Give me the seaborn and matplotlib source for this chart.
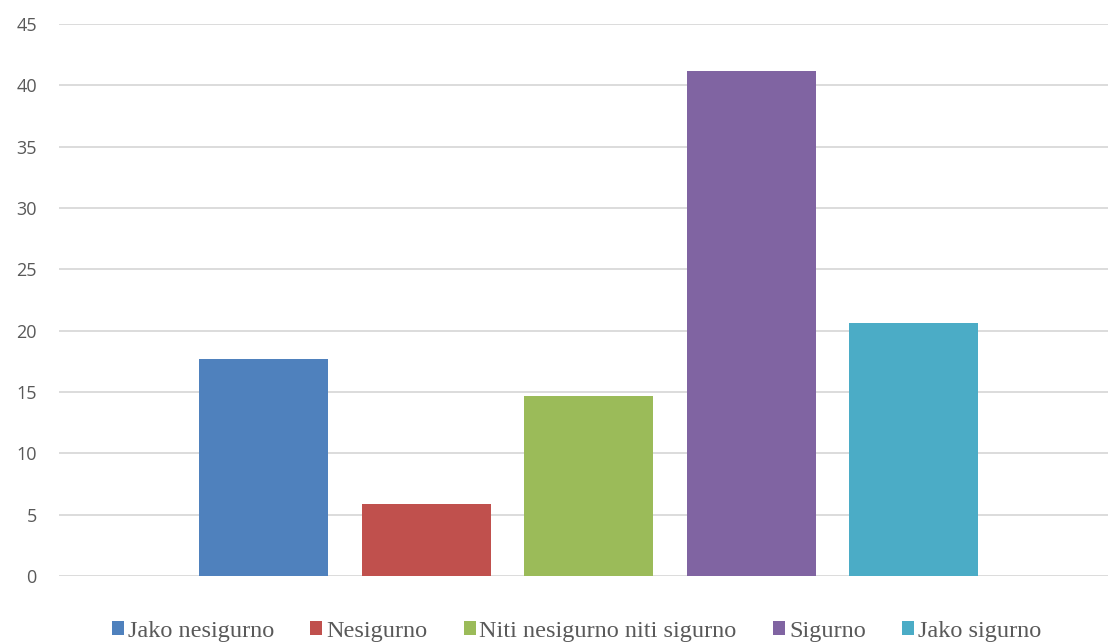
import matplotlib
matplotlib.use("Agg")
import matplotlib.pyplot as plt
import seaborn as sns
import pandas as pd

categories = ["Jako nesigurno", "Nesigurno", "Niti nesigurno niti sigurno", "Sigurno", "Jako sigurno"]
values = [17.65, 5.88, 14.71, 41.18, 20.59]
colors = ["#4F81BD", "#C0504D", "#9BBB59", "#8064A2", "#4BACC6"]
yticks = [0, 5, 10, 15, 20, 25, 30, 35, 40, 45]

df = pd.DataFrame({"cat": categories, "val": values})

sns.set_theme(style="white")
plt.rcParams["font.family"] = ["Liberation Serif", "DejaVu Serif"]

W, H = 1108, 642
fig = plt.figure(figsize=(W / 100, H / 100), dpi=100)
ax = fig.add_axes([59 / W, (H - 576) / H, (1108 - 59) / W, (576 - 24) / H])

sns.barplot(data=df, x="cat", y="val", hue="cat", palette=colors, width=0.794,
            dodge=False, legend=True, ax=ax, saturation=1, zorder=3, linewidth=0)

ax.set_ylim(0, 45)
ax.set_xlim(-1.262, 5.197)
ax.set_yticks(yticks)
ax.set_yticklabels([str(t) for t in yticks], fontfamily="Open Sans", fontsize=13, color="#595959")
ax.tick_params(axis="y", length=0, pad=16)
ax.set_xticks([])
ax.set_xlabel("")
ax.set_ylabel("")
ax.yaxis.grid(True, color="#D9D9D9", linewidth=1.3, zorder=0)
ax.set_axisbelow(True)
for s in ax.spines.values():
    s.set_visible(False)

handles, labels = ax.get_legend_handles_labels()
old = ax.get_legend()
if old is not None:
    old.remove()
leg = fig.legend(handles, labels, loc="center", bbox_to_anchor=(576.5 / W, (H - 631) / H),
                 ncol=5, frameon=False, fontsize=17.5, handlelength=0.5, handleheight=0.5,
                 handletextpad=0.15, columnspacing=1.5, borderaxespad=0)
for t in leg.get_texts():
    t.set_color("#595959")

fig.savefig("out.png", dpi=100, facecolor="white")
